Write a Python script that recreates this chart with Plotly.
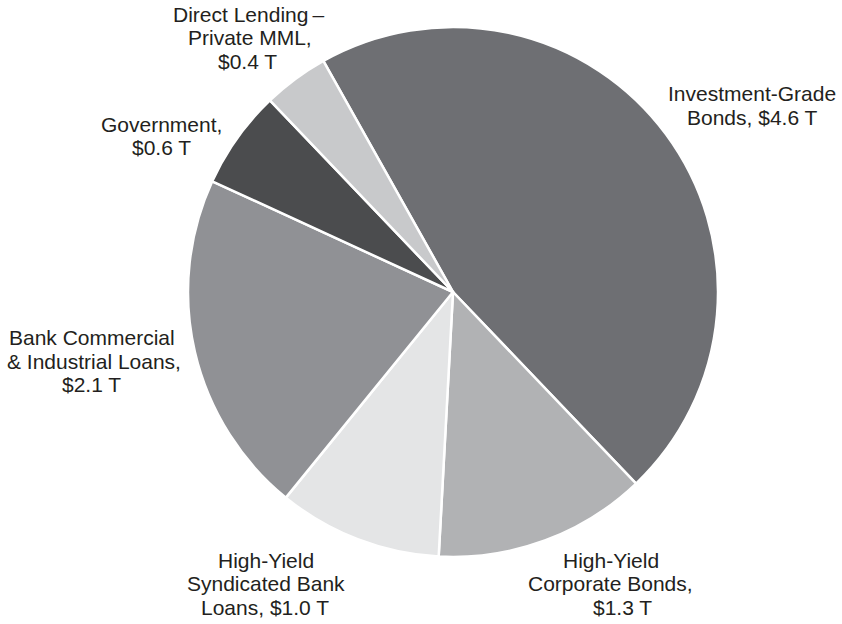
import plotly.graph_objects as go

# ---- data ----
categories = [
    "Investment-Grade Bonds",
    "High-Yield Corporate Bonds",
    "High-Yield Syndicated Bank Loans",
    "Bank Commercial & Industrial Loans",
    "Government",
    "Direct Lending – Private MML",
]
values = [4.6, 1.3, 1.0, 2.1, 0.6, 0.4]
label_lines = [
    ["Investment-Grade", "Bonds, $4.6 T"],
    ["High-Yield", "Corporate Bonds,", "$1.3 T"],
    ["High-Yield", "Syndicated Bank", "Loans, $1.0 T"],
    ["Bank Commercial", "& Industrial Loans,", "$2.1 T"],
    ["Government,", "$0.6 T"],
    ["Direct Lending\u2009–", "Private MML,", "$0.4 T"],
]

# ---- styles / layout ----
colors = ["#6e6f73", "#b1b2b4", "#e4e5e6", "#909195", "#4b4c4e", "#c8c9cb"]
W, H = 842, 624
cx, cy, r = 453, 292, 265
# per-label: list of line centre x positions, first baseline y, in pixels
label_pos = [
    ([752, 752], 101.5),
    ([611, 610, 622], 568),
    ([266, 266, 265], 568),
    ([92, 94, 91], 345.5),
    ([161, 161], 132),
    ([249, 250, 248], 22),
]
line_gap = 23.4
fs = 21
txt_color = "#231f20"

fig = go.Figure(go.Pie(
    labels=categories,
    values=values,
    sort=False,
    direction="clockwise",
    rotation=-29.3,
    marker=dict(colors=colors, line=dict(color="white", width=2.5)),
    textinfo="none",
    hoverinfo="label+value",
    domain=dict(x=[(cx - r) / W, (cx + r) / W], y=[(H - cy - r) / H, (H - cy + r) / H]),
    showlegend=False,
))

annotations = []
for lines, (xs, y0) in zip(label_lines, label_pos):
    for i, (line, x) in enumerate(zip(lines, xs)):
        base = y0 + i * line_gap
        annotations.append(dict(
            text=line, x=x / W, y=1 - (base - 0.36 * fs) / H,
            xref="paper", yref="paper", xanchor="center", yanchor="middle",
            showarrow=False,
            font=dict(family="Liberation Sans, Arial, sans-serif", size=fs, color=txt_color),
        ))

fig.update_layout(
    width=W, height=H,
    margin=dict(l=0, r=0, t=0, b=0),
    paper_bgcolor="white", plot_bgcolor="white",
    annotations=annotations,
)

fig.write_html("out.html")
